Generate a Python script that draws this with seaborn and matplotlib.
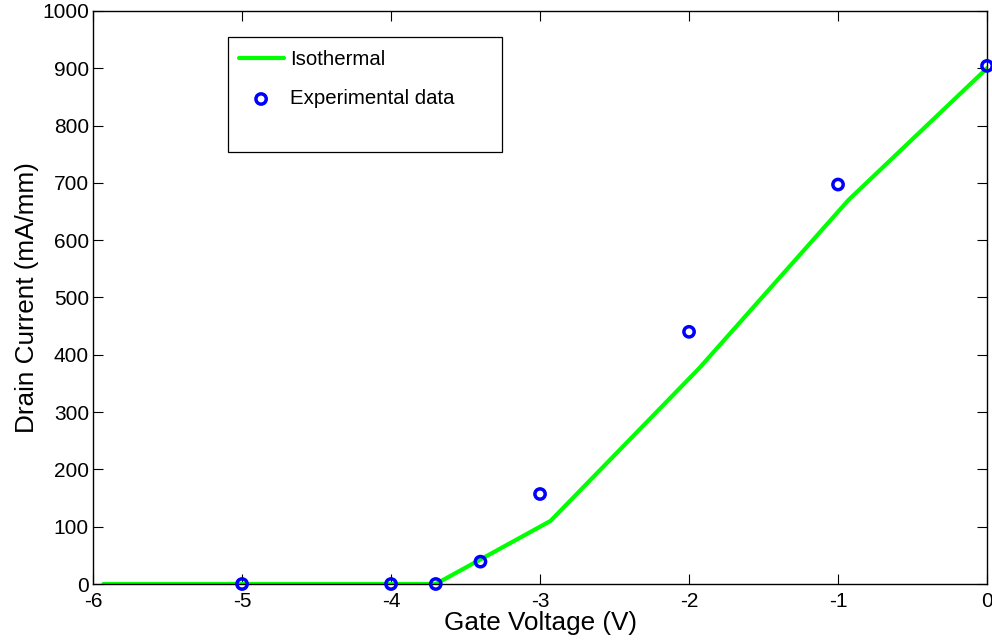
import matplotlib
matplotlib.use("Agg")
import matplotlib.pyplot as plt
from matplotlib.patches import Rectangle
import seaborn as sns
import pandas as pd

# Isothermal model curve (gate voltage in V, drain current in mA/mm)
model_vg = [-5.93, -3.7, -2.93, -1.93, -0.93, 0.0]
model_id = [0, 0, 110, 377, 670, 900]

# Measured points
exp_vg = [-5, -4, -3.7, -3.4, -3, -2, -1, 0]
exp_id = [0, 0, 0, 39, 157, 440, 697, 904]

x_ticks = [-6, -5, -4, -3, -2, -1, 0]
y_ticks = list(range(0, 1001, 100))

sns.set_style("white")
plt.rcParams["font.family"] = ["Liberation Sans", "DejaVu Sans"]
plt.rcParams["text.color"] = "black"
plt.rcParams["axes.labelcolor"] = "black"
plt.rcParams["xtick.color"] = "black"
plt.rcParams["ytick.color"] = "black"

fig = plt.figure(figsize=(9.92, 6.4), dpi=100)
ax = fig.add_axes([0.0938, 0.0875, 0.9012, 0.8955])

model = pd.DataFrame({"vg": model_vg, "id": model_id})
exp = pd.DataFrame({"vg": exp_vg, "id": exp_id})

sns.lineplot(data=model, x="vg", y="id", ax=ax, color="#00ff00", lw=3,
             label="Isothermal", sort=False)
sns.scatterplot(data=exp, x="vg", y="id", ax=ax, marker="o", s=55,
                facecolor="none", edgecolor="#0000ff", linewidth=2.5,
                label="Experimental data", zorder=5, clip_on=False)

ax.set_xlim(-6, 0)
ax.set_ylim(0, 1000)
ax.set_xticks(x_ticks)
ax.set_yticks(y_ticks)
ax.set_xticklabels([str(v) for v in x_ticks])
ax.set_xlabel("Gate Voltage (V)", fontsize=18.8, labelpad=0)
ax.set_ylabel("Drain Current (mA/mm)", fontsize=18.8, labelpad=2)

ax.tick_params(direction="in", length=7, width=0.8, labelsize=15,
               top=True, right=True, bottom=True, left=True,
               colors="black")
ax.tick_params(axis="x", pad=6)
ax.tick_params(axis="y", pad=3)
for s in ax.spines.values():
    s.set_visible(True)
    s.set_color("black")
    s.set_linewidth(1.0)

# Legend box with the entries placed in its upper part
ax.add_patch(Rectangle((0.151, 0.754), 0.306, 0.201, transform=ax.transAxes,
                       facecolor="white", edgecolor="black", lw=0.9,
                       zorder=6))
leg = ax.legend(loc="upper left", bbox_to_anchor=(0.148, 0.955),
                fontsize=14.7, frameon=False,
                borderpad=0.65, labelspacing=1.0, handlelength=2.2,
                handletextpad=0.3, borderaxespad=0)
leg.set_zorder(7)

fig.savefig("out.png", dpi=100)
